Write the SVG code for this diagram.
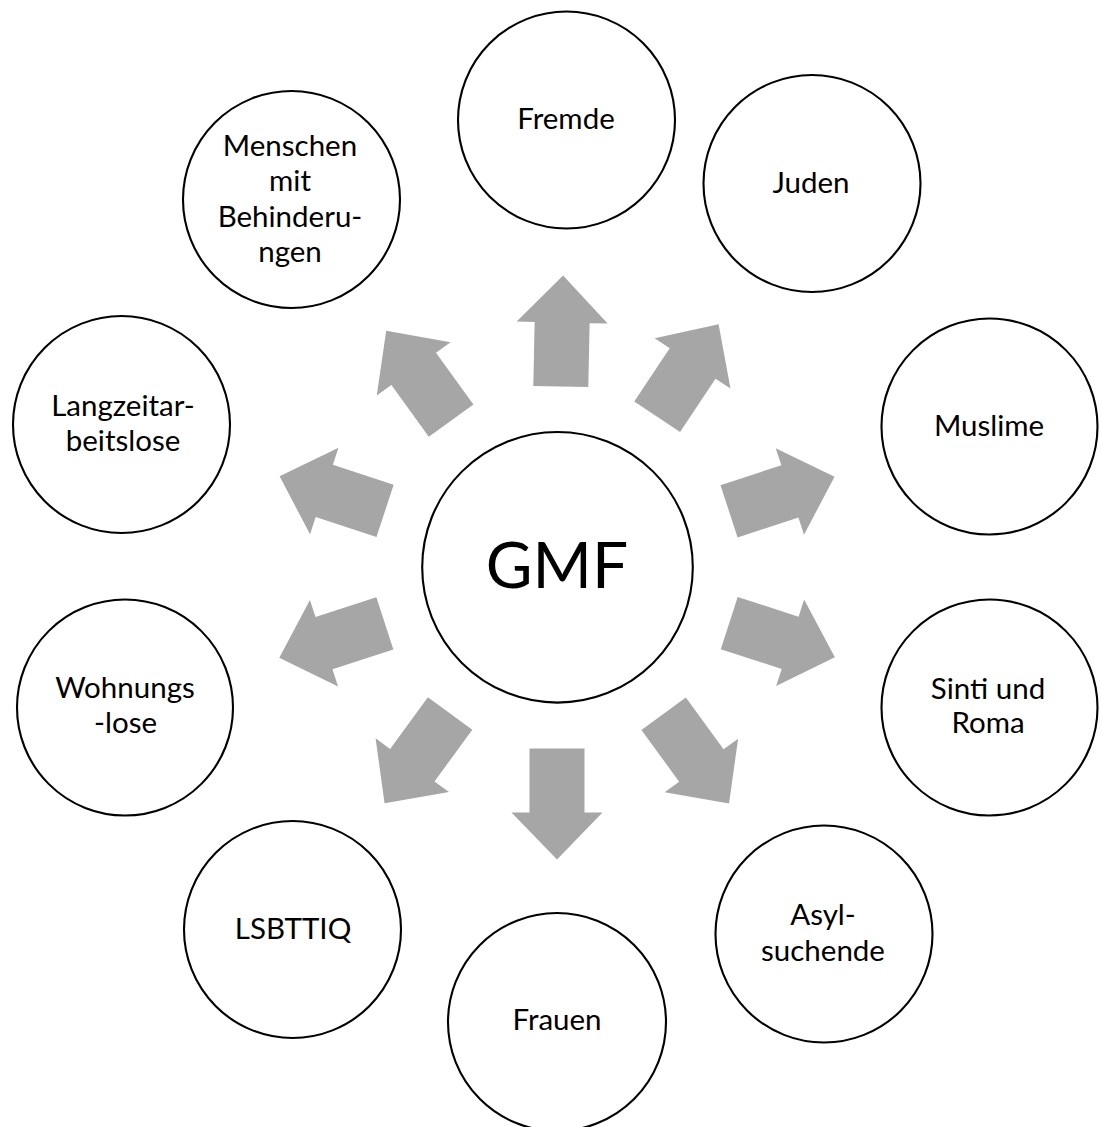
<svg xmlns="http://www.w3.org/2000/svg" xmlns:xlink="http://www.w3.org/1999/xlink" width="1102" height="1127" viewBox="0 0 1102 1127">
  <style>
    .node { fill: #ffffff; stroke: #000000; stroke-width: 2.1; }
    .label { font-family: Lato, "Liberation Sans", sans-serif; font-size: 29.5px; fill: #000000; text-anchor: middle; }
    .hub { font-family: Lato, "Liberation Sans", sans-serif; font-size: 64px; fill: #000000; text-anchor: middle; }
    .arrow { fill: #A6A6A6; }
  </style>
  <defs>
    <!-- block arrow pointing along +x, offset from the hub centre -->
    <polygon id="arrow" points="181,-27.5 245,-27.5 245,-45.5 292,0 245,45.5 245,27.5 181,27.5"/>
  </defs>
  <rect width="1102" height="1127" fill="#ffffff"/>

  <g id="connectors" class="arrow">
    <use xlink:href="#arrow" transform="translate(557 567.5) rotate(-88.8)"/>
    <use xlink:href="#arrow" transform="translate(557 567.5) rotate(-56.4)"/>
    <use xlink:href="#arrow" transform="translate(557 567.5) rotate(-18.1)"/>
    <use xlink:href="#arrow" transform="translate(557 567.5) rotate(17.9)"/>
    <use xlink:href="#arrow" transform="translate(557 567.5) rotate(53.9)"/>
    <use xlink:href="#arrow" transform="translate(557 567.5) rotate(90)"/>
    <use xlink:href="#arrow" transform="translate(557 567.5) rotate(126.2)"/>
    <use xlink:href="#arrow" transform="translate(557 567.5) rotate(162)"/>
    <use xlink:href="#arrow" transform="translate(557 567.5) rotate(-161.8)"/>
    <use xlink:href="#arrow" transform="translate(557 567.5) rotate(-125.8)"/>
  </g>

  <g id="gmf">
    <circle class="node" cx="557.5" cy="567.3" r="135.3"/>
    <text class="hub" x="557" y="588">GMF</text>
  </g>

  <g id="fremde">
    <circle class="node" cx="566.5" cy="120" r="108.5"/>
    <text class="label" x="566" y="129">Fremde</text>
  </g>

  <g id="juden">
    <circle class="node" cx="812" cy="183.5" r="108.5"/>
    <text class="label" x="811" y="193">Juden</text>
  </g>

  <g id="muslime">
    <circle class="node" cx="989.5" cy="426.5" r="108"/>
    <text class="label" x="989" y="436">Muslime</text>
  </g>

  <g id="sinti-roma">
    <circle class="node" cx="989.5" cy="707.5" r="108"/>
    <text class="label" x="988" y="699">Sinti und</text>
    <text class="label" x="988" y="733">Roma</text>
  </g>

  <g id="asylsuchende">
    <circle class="node" cx="824" cy="934" r="108.5"/>
    <text class="label" x="823" y="925">Asyl-</text>
    <text class="label" x="823" y="961">suchende</text>
  </g>

  <g id="frauen">
    <circle class="node" cx="557" cy="1022" r="109"/>
    <text class="label" x="557" y="1030">Frauen</text>
  </g>

  <g id="lsbttiq">
    <circle class="node" cx="292.5" cy="929.5" r="108.5"/>
    <text class="label" x="293" y="939">LSBTTIQ</text>
  </g>

  <g id="wohnungslose">
    <circle class="node" cx="125" cy="707.5" r="108"/>
    <text class="label" x="125" y="698">Wohnungs</text>
    <text class="label" x="125.5" y="733">-lose</text>
  </g>

  <g id="langzeitarbeitslose">
    <circle class="node" cx="121.5" cy="424.5" r="108.5"/>
    <text class="label" x="123" y="416">Langzeitar-</text>
    <text class="label" x="123" y="451">beitslose</text>
  </g>

  <g id="behinderungen">
    <circle class="node" cx="291.5" cy="199.5" r="108.5"/>
    <text class="label" x="290" y="156">Menschen</text>
    <text class="label" x="290" y="191">mit</text>
    <text class="label" x="290" y="227">Behinderu-</text>
    <text class="label" x="290" y="262">ngen</text>
  </g>
</svg>
